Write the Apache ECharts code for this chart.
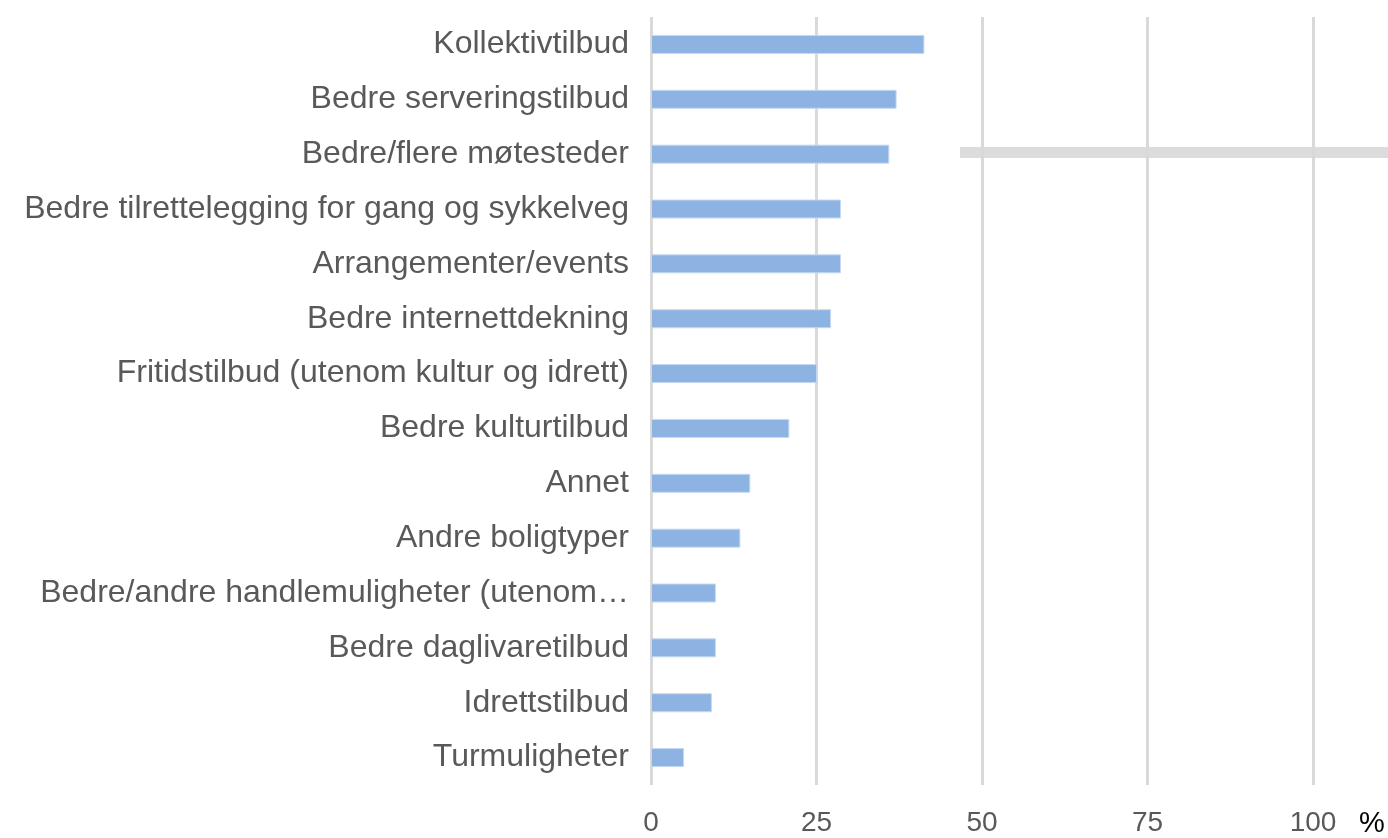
<!DOCTYPE html>
<html>
<head>
<meta charset="utf-8">
<script src="https://cdn.jsdelivr.net/npm/echarts@6/dist/echarts.min.js"></script>
<style>
  html, body { margin: 0; padding: 0; background: #fff; }
  #view { width: 1388px; height: 838px; }
</style>
</head>
<body>
<div id="view"></div>
<script>
// categories listed bottom to top (category axis starts at the bottom)
var categories = [
    'Turmuligheter',
    'Idrettstilbud',
    'Bedre daglivaretilbud',
    'Bedre/andre handlemuligheter (utenom…',
    'Andre boligtyper',
    'Annet',
    'Bedre kulturtilbud',
    'Fritidstilbud (utenom kultur og idrett)',
    'Bedre internettdekning',
    'Arrangementer/events',
    'Bedre tilrettelegging for gang og sykkelveg',
    'Bedre/flere møtesteder',
    'Bedre serveringstilbud',
    'Kollektivtilbud'
];
var values = [5.0, 9.2, 9.8, 9.8, 13.5, 15.0, 20.9, 25.1, 27.2, 28.7, 28.7, 36.0, 37.1, 41.3];
var xTicks = [0, 25, 50, 75, 100];

var myChart = echarts.init(document.getElementById('view'));

var textColor = '#595959';
var fontName = 'Liberation Sans';

option = {
    animation: false,
    grid: {
        left: 651,
        right: 75,
        top: 17,
        bottom: 46,
        containLabel: false
    },
    xAxis: {
        type: 'value',
        min: xTicks[0],
        max: xTicks[xTicks.length - 1],
        interval: 25,
        name: '%',
        nameLocation: 'end',
        nameGap: 46,
        nameTextStyle: {
            color: '#000',
            fontSize: 29,
            fontFamily: fontName,
            verticalAlign: 'top',
            padding: [24, 0, 0, 0]
        },
        axisLine: { show: false },
        axisTick: { show: false },
        axisLabel: {
            color: textColor,
            fontSize: 28,
            fontFamily: fontName,
            margin: 24
        },
        splitLine: {
            show: true,
            lineStyle: { color: '#d9d9d9', width: 3 }
        }
    },
    yAxis: {
        type: 'category',
        data: categories,
        axisLine: { show: false },
        axisTick: { show: false },
        axisLabel: {
            color: textColor,
            fontSize: 32,
            fontFamily: fontName,
            margin: 22,
            padding: [10, 0, 0, 0]
        }
    },
    graphic: [{
        // stray grey legend stroke seen in the original
        type: 'rect',
        shape: { x: 960, y: 147, width: 428, height: 11 },
        style: { fill: '#dcdcdc' }
    }],
    series: [{
        type: 'bar',
        data: values,
        barWidth: 19,
        itemStyle: {
            color: '#8db3e2',
            borderColor: '#c6d9f1',
            borderWidth: 1
        }
    }]
};

myChart.setOption(option);
</script>
</body>
</html>
